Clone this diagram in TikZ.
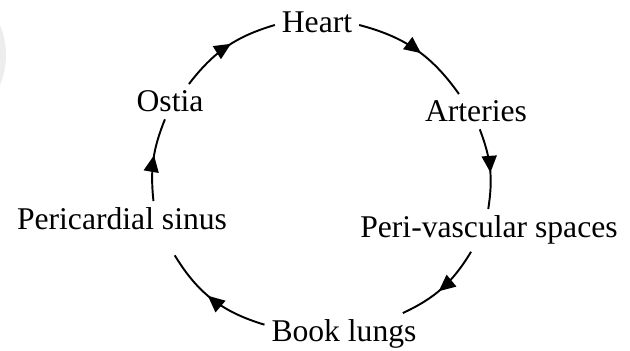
\documentclass[tikz,border=0pt]{standalone}
\usepackage{fontspec}
\setmainfont{Liberation Serif}
\usepackage{tikz}
\usetikzlibrary{arrows.meta,decorations.markings}

\begin{document}
\begin{tikzpicture}[
  lbl/.style={font=\fontsize{18}{21.6}\selectfont, inner sep=4pt, outer sep=0pt, anchor=base},
  arr/.style={line width=1.1pt, postaction={decorate},
    decoration={markings, mark=at position 0.55 with {\arrow{Triangle[length=9.5pt,width=8.5pt]}}}}]
\useasboundingbox (0,0) rectangle (12.6,7.02);
% faint disc at the left edge
\begin{scope}
\clip (0,0) rectangle (12.6,7.02);
\fill[gray!14] (-1.44,5.92) circle (1.56);
\end{scope}
% the six stations
\node[lbl] (heart) at (6.34,6.36) {Heart};
\node[lbl] (art) at (9.52,4.58) {Arteries};
\node[lbl] (pvs) at (9.78,2.26) {Peri-vascular spaces};
\node[lbl] (book) at (6.88,0.18) {Book lungs};
\node[lbl] (ps) at (2.44,2.42) {Pericardial sinus};
\node[lbl] (ostia) at (3.40,4.78) {Ostia};
% flow round the cycle
\draw[arr] (heart.-3) to[bend left=20] (art.134);
\draw[arr] (art.-78) to[bend left=15] (pvs.92);
\draw[arr] (pvs.-130) to[bend left=17] (book.20);
\draw[arr] (book.173) to[bend left=21] ([yshift=-0.36cm]ps.-19);
\draw[arr] (ps.30) to[bend left=14] (ostia.-106);
\draw[arr] (ostia.43) to[bend left=18] (heart.183);
\end{tikzpicture}
\end{document}
